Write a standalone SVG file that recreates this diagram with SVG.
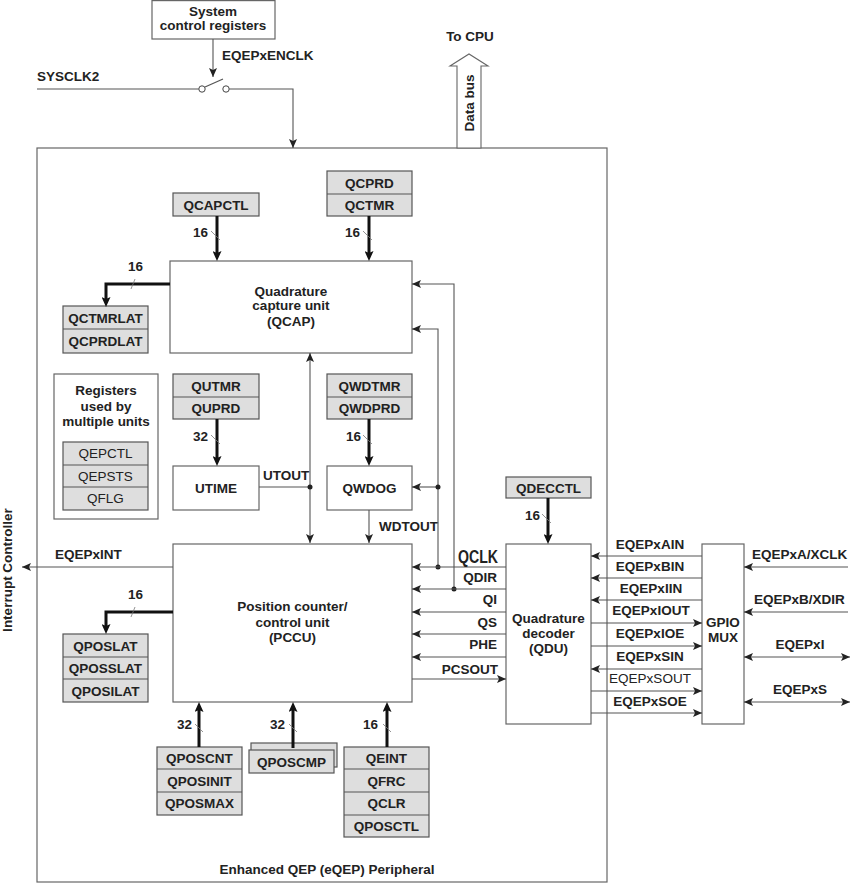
<svg xmlns="http://www.w3.org/2000/svg" width="852" height="884" viewBox="0 0 852 884">
<defs>
<style>
.bx{fill:#fff;stroke:#666;stroke-width:1.2}
.rg{fill:#dedede;stroke:#555;stroke-width:1.2}
.t{font-family:"Liberation Sans",Arial,sans-serif;font-weight:bold;font-size:13.5px;fill:#222}
.n{font-weight:normal}
.m{text-anchor:middle}
.e{text-anchor:end}
.ln{fill:none;stroke:#555;stroke-width:1.1}
.bus{fill:none;stroke:#111;stroke-width:3}
.sl{stroke:#777;stroke-width:0.8}
.dot{fill:#222}
</style>
<marker id="a" markerUnits="userSpaceOnUse" viewBox="0 0 9 8" markerWidth="9" markerHeight="8" refX="9" refY="4" orient="auto-start-reverse"><path d="M0,0 L9,4 L0,8 L2,4 z" fill="#222"/></marker>
<marker id="A" markerUnits="userSpaceOnUse" viewBox="0 0 10 9" markerWidth="10" markerHeight="9" refX="5" refY="4.5" orient="auto"><path d="M0,0 L10,4.5 L0,9 L2,4.5 z" fill="#111"/></marker>
</defs>

<g id="peripheral"><rect class="bx" x="37" y="148" width="570" height="734"/><text class="t m" x="327" y="874">Enhanced QEP (eQEP) Peripheral</text></g>

<g id="sysctrl"><rect class="bx" x="152" y="0.6" width="123" height="38.4"/><text class="t m" x="213" y="16">System</text><text class="t m" x="213" y="30">control registers</text></g>

<g id="switch"><circle cx="202" cy="89" r="3.2" fill="#fff" stroke="#444"/><circle cx="226" cy="89" r="3.2" fill="#fff" stroke="#444"/><line class="ln" x1="205" y1="87" x2="223" y2="79"/></g>

<g id="databus"><polygon points="457,148 457,66 450,66 469,54 488,66 481,66 481,148" fill="#fff" stroke="#666" stroke-width="1.1"/><text class="t" transform="translate(474,103) rotate(-90)" text-anchor="middle">Data bus</text><text class="t m" x="470" y="41">To CPU</text></g>

<g id="qcap"><rect class="bx" x="170" y="261" width="242" height="92"/><text class="t m" x="291" y="296">Quadrature</text><text class="t m" x="291" y="310">capture unit</text><text class="t m" x="291" y="326">(QCAP)</text></g>

<g id="qcapctl"><rect class="rg" x="173" y="193" width="86" height="23"/><text class="t m" x="216" y="210">QCAPCTL</text></g>

<g id="qcprd"><rect class="rg" x="327" y="171" width="85" height="45"/><line x1="327" y1="194" x2="412" y2="194" stroke="#555" stroke-width="1.2"/><text class="t m" x="369.5" y="188">QCPRD</text><text class="t m" x="369.5" y="210">QCTMR</text></g>

<g id="qctmrlat"><rect class="rg" x="63" y="306" width="85" height="47"/><line x1="63" y1="329" x2="148" y2="329" stroke="#555" stroke-width="1.2"/><text class="t m" x="105.5" y="322.5">QCTMRLAT</text><text class="t m" x="105.5" y="346">QCPRDLAT</text></g>

<g id="multi"><rect class="bx" x="54" y="374" width="104" height="145"/><text class="t m" x="106" y="395">Registers</text><text class="t m" x="106" y="411">used by</text><text class="t m" x="106" y="426">multiple units</text><rect class="rg" x="63" y="442" width="85" height="68"/><line x1="63" y1="465" x2="148" y2="465" stroke="#555" stroke-width="1.2"/><line x1="63" y1="487" x2="148" y2="487" stroke="#555" stroke-width="1.2"/><text class="t n m" x="105.5" y="458">QEPCTL</text><text class="t n m" x="105.5" y="481">QEPSTS</text><text class="t n m" x="105.5" y="503">QFLG</text></g>

<g id="qutmr"><rect class="rg" x="173" y="374" width="86" height="45"/><line x1="173" y1="397" x2="259" y2="397" stroke="#555" stroke-width="1.2"/><text class="t m" x="216" y="391">QUTMR</text><text class="t m" x="216" y="413">QUPRD</text></g>

<g id="utime"><rect class="bx" x="173" y="466" width="86" height="44"/><text class="t m" x="216" y="493">UTIME</text></g>

<g id="qwdtmr"><rect class="rg" x="327" y="374" width="85" height="45"/><line x1="327" y1="397" x2="412" y2="397" stroke="#555" stroke-width="1.2"/><text class="t m" x="369.5" y="391">QWDTMR</text><text class="t m" x="369.5" y="413">QWDPRD</text></g>

<g id="qwdog"><rect class="bx" x="327" y="466" width="85" height="44"/><text class="t m" x="369.5" y="493">QWDOG</text></g>

<g id="qdecctl"><rect class="rg" x="506" y="477" width="85" height="21"/><text class="t m" x="548.5" y="493">QDECCTL</text></g>

<g id="qdu"><rect class="bx" x="506" y="544" width="85" height="180"/><text class="t m" x="548.5" y="623">Quadrature</text><text class="t m" x="548.5" y="638">decoder</text><text class="t m" x="548.5" y="653">(QDU)</text></g>

<g id="pccu"><rect class="bx" x="173" y="544" width="239" height="158"/><text class="t m" x="292.5" y="611">Position counter/</text><text class="t m" x="292.5" y="627">control unit</text><text class="t m" x="292.5" y="642">(PCCU)</text></g>

<g id="qposlat"><rect class="rg" x="63" y="634" width="85" height="68"/><line x1="63" y1="657" x2="148" y2="657" stroke="#555" stroke-width="1.2"/><line x1="63" y1="679" x2="148" y2="679" stroke="#555" stroke-width="1.2"/><text class="t m" x="105.5" y="650.5">QPOSLAT</text><text class="t m" x="105.5" y="673">QPOSSLAT</text><text class="t m" x="105.5" y="695.5">QPOSILAT</text></g>

<g id="qposcnt"><rect class="rg" x="157" y="747" width="85" height="68"/><line x1="157" y1="769" x2="242" y2="769" stroke="#555" stroke-width="1.2"/><line x1="157" y1="792" x2="242" y2="792" stroke="#555" stroke-width="1.2"/><text class="t m" x="199.5" y="763">QPOSCNT</text><text class="t m" x="199.5" y="786">QPOSINIT</text><text class="t m" x="199.5" y="808">QPOSMAX</text></g>

<g id="qposcmp"><rect class="rg" x="251" y="743" width="86" height="24"/><rect class="rg" x="249" y="750" width="85" height="23"/><text class="t m" x="291.5" y="767">QPOSCMP</text></g>

<g id="qeint"><rect class="rg" x="344" y="747" width="85" height="90"/><line x1="344" y1="769" x2="429" y2="769" stroke="#555" stroke-width="1.2"/><line x1="344" y1="792" x2="429" y2="792" stroke="#555" stroke-width="1.2"/><line x1="344" y1="815" x2="429" y2="815" stroke="#555" stroke-width="1.2"/><text class="t m" x="386.5" y="763">QEINT</text><text class="t m" x="386.5" y="786">QFRC</text><text class="t m" x="386.5" y="808">QCLR</text><text class="t m" x="386.5" y="831">QPOSCTL</text></g>

<g id="gpio"><rect class="bx" x="702" y="544" width="42" height="180"/><text class="t m" x="723" y="627">GPIO</text><text class="t m" x="723" y="642">MUX</text></g>

<g id="intc"><text class="t" transform="translate(12,570) rotate(-90)" text-anchor="middle">Interrupt Controller</text></g>

<g id="connectors">
<line class="ln" x1="213" y1="39" x2="213" y2="77" marker-end="url(#a)"/>
<path class="ln" d="M37,89 H198.8"/>
<path class="ln" d="M229.2,89 H293 V148" marker-end="url(#a)"/>
<text class="t" x="222" y="60">EQEPxENCLK</text>
<text class="t" x="37" y="81">SYSCLK2</text>

<line class="bus" x1="217" y1="216" x2="217" y2="256" marker-end="url(#A)"/>
<line class="sl" x1="211" y1="231" x2="220" y2="240"/><text class="t e" x="208" y="237">16</text>
<line class="bus" x1="369" y1="216" x2="369" y2="256" marker-end="url(#A)"/>
<line class="sl" x1="363" y1="231" x2="372" y2="240"/><text class="t e" x="360" y="237">16</text>
<path class="bus" d="M170,284 H106 V302" marker-end="url(#A)"/>
<line class="sl" x1="131" y1="289" x2="135" y2="279"/><text class="t m" x="135.5" y="271">16</text>

<line class="bus" x1="217" y1="419" x2="217" y2="461" marker-end="url(#A)"/>
<line class="sl" x1="211" y1="435" x2="220" y2="444"/><text class="t e" x="208" y="441">32</text>
<line class="bus" x1="369" y1="419" x2="369" y2="461" marker-end="url(#A)"/>
<line class="sl" x1="363" y1="435" x2="372" y2="444"/><text class="t e" x="361" y="441">16</text>
<line class="bus" x1="548" y1="498" x2="548" y2="539" marker-end="url(#A)"/>
<line class="sl" x1="542" y1="514" x2="551" y2="523"/><text class="t e" x="540" y="520">16</text>

<path class="bus" d="M173,612 H106 V629" marker-end="url(#A)"/>
<line class="sl" x1="131" y1="617" x2="135" y2="607"/><text class="t m" x="135.5" y="599">16</text>

<line class="bus" x1="199" y1="747" x2="199" y2="707" marker-end="url(#A)"/>
<line class="sl" x1="195" y1="724" x2="203" y2="732"/><text class="t e" x="192" y="729">32</text>
<line class="bus" x1="293" y1="748" x2="293" y2="707" marker-end="url(#A)"/>
<line class="sl" x1="289" y1="724" x2="297" y2="732"/><text class="t e" x="285" y="729">32</text>
<line class="bus" x1="387" y1="747" x2="387" y2="707" marker-end="url(#A)"/>
<line class="sl" x1="383" y1="724" x2="391" y2="732"/><text class="t e" x="378" y="729">16</text>

<line class="ln" x1="310" y1="353" x2="310" y2="543" marker-start="url(#a)" marker-end="url(#a)"/>
<line class="ln" x1="259" y1="487" x2="310" y2="487"/>
<circle class="dot" cx="310" cy="487" r="2.5"/>
<text class="t" x="263" y="480">UTOUT</text>
<line class="ln" x1="369" y1="510" x2="369" y2="543" marker-end="url(#a)"/>
<text class="t" x="379" y="531">WDTOUT</text>

<path class="ln" d="M454,589 V284 H412" marker-end="url(#a)"/>
<path class="ln" d="M438,567 V329 H412" marker-end="url(#a)"/>
<line class="ln" x1="438" y1="487" x2="412" y2="487" marker-end="url(#a)"/>
<circle class="dot" cx="438" cy="487" r="2.5"/>
<circle class="dot" cx="438" cy="567" r="2.5"/>
<circle class="dot" cx="454" cy="589" r="2.5"/>

<line class="ln" x1="506" y1="567" x2="412" y2="567" marker-end="url(#a)"/>
<line class="ln" x1="506" y1="589" x2="412" y2="589" marker-end="url(#a)"/>
<line class="ln" x1="506" y1="612" x2="412" y2="612" marker-end="url(#a)"/>
<line class="ln" x1="506" y1="634" x2="412" y2="634" marker-end="url(#a)"/>
<line class="ln" x1="506" y1="657" x2="412" y2="657" marker-end="url(#a)"/>
<line class="ln" x1="412" y1="679" x2="506" y2="679" marker-end="url(#a)"/>
<text class="t" x="458" y="563" style="font-size:19px" textLength="40" lengthAdjust="spacingAndGlyphs">QCLK</text>
<text class="t e" x="497" y="582">QDIR</text>
<text class="t e" x="497" y="604">QI</text>
<text class="t e" x="497" y="627">QS</text>
<text class="t e" x="497" y="649">PHE</text>
<text class="t e" x="498" y="674">PCSOUT</text>

<line class="ln" x1="702" y1="556" x2="591" y2="556" marker-end="url(#a)"/>
<line class="ln" x1="702" y1="578" x2="591" y2="578" marker-end="url(#a)"/>
<line class="ln" x1="702" y1="600" x2="591" y2="600" marker-end="url(#a)"/>
<line class="ln" x1="591" y1="623" x2="702" y2="623" marker-end="url(#a)"/>
<line class="ln" x1="591" y1="646" x2="702" y2="646" marker-end="url(#a)"/>
<line class="ln" x1="702" y1="669" x2="591" y2="669" marker-end="url(#a)"/>
<line class="ln" x1="591" y1="691" x2="702" y2="691" marker-end="url(#a)"/>
<line class="ln" x1="591" y1="713" x2="702" y2="713" marker-end="url(#a)"/>
<text class="t m" x="650" y="549">EQEPxAIN</text>
<text class="t m" x="650" y="571">EQEPxBIN</text>
<text class="t m" x="651" y="593">EQEPxIIN</text>
<text class="t m" x="651" y="615">EQEPxIOUT</text>
<text class="t m" x="650" y="638">EQEPxIOE</text>
<text class="t m" x="650" y="661">EQEPxSIN</text>
<text class="t n m" x="650" y="683">EQEPxSOUT</text>
<text class="t m" x="650" y="706">EQEPxSOE</text>

<line class="ln" x1="848" y1="567" x2="744" y2="567" marker-end="url(#a)"/>
<line class="ln" x1="848" y1="612" x2="744" y2="612" marker-end="url(#a)"/>
<line class="ln" x1="744" y1="657" x2="850" y2="657" marker-start="url(#a)" marker-end="url(#a)"/>
<line class="ln" x1="744" y1="702" x2="850" y2="702" marker-start="url(#a)" marker-end="url(#a)"/>
<text class="t" x="752" y="559">EQEPxA/XCLK</text>
<text class="t" x="754" y="604">EQEPxB/XDIR</text>
<text class="t m" x="800" y="649">EQEPxI</text>
<text class="t m" x="800" y="694">EQEPxS</text>

<line class="ln" x1="173" y1="567" x2="22" y2="567" marker-end="url(#a)"/>
<text class="t" x="55" y="559">EQEPxINT</text>
</g>
</svg>
